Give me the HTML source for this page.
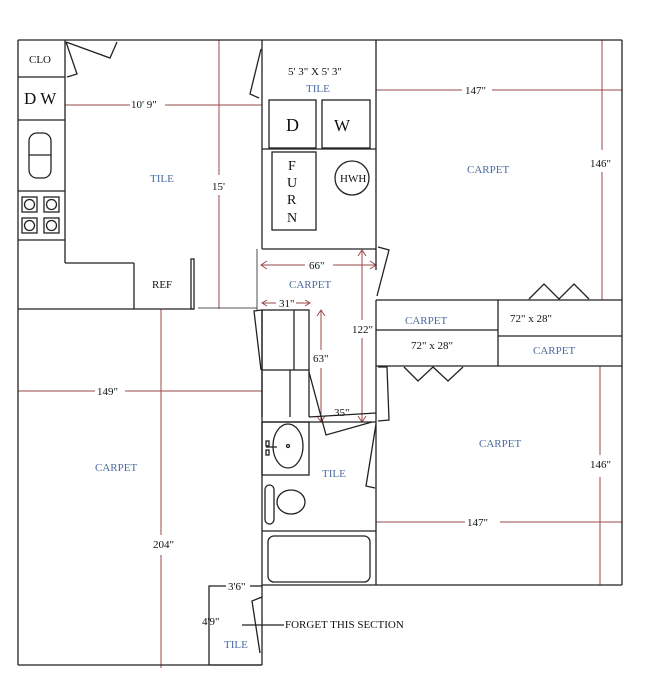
<!DOCTYPE html>
<html><head><meta charset="utf-8"><style>
html,body{margin:0;padding:0;background:#fff;width:650px;height:695px;overflow:hidden}
text{font-family:"Liberation Serif",serif;font-size:11px;fill:#111}
.b{fill:#4a6aa0}
</style></head><body>
<svg width="650" height="695" viewBox="0 0 650 695" xmlns="http://www.w3.org/2000/svg">
<g stroke="#9b4a4a" stroke-width="1" fill="none">
<line x1="65" y1="105" x2="130" y2="105"/><line x1="165" y1="105" x2="262" y2="105"/>
<line x1="219" y1="40" x2="219" y2="175"/><line x1="219" y1="195" x2="219" y2="309"/>
<line x1="376" y1="90" x2="462" y2="90"/><line x1="492" y1="90" x2="622" y2="90"/>
<line x1="602" y1="40" x2="602" y2="150"/><line x1="602" y1="172" x2="602" y2="300"/>
<line x1="18" y1="391" x2="95" y2="391"/><line x1="125" y1="391" x2="262" y2="391"/>
<line x1="161" y1="309" x2="161" y2="535"/><line x1="161" y1="555" x2="161" y2="668"/>
<line x1="376" y1="522" x2="465" y2="522"/><line x1="500" y1="522" x2="622" y2="522"/>
<line x1="600" y1="366" x2="600" y2="455"/><line x1="600" y1="477" x2="600" y2="585"/>
<line x1="261" y1="265" x2="305" y2="265"/><line x1="333" y1="265" x2="376" y2="265"/>
<polyline points="267,261 261,265 267,269"/><polyline points="370,261 376,265 370,269"/>
<line x1="362" y1="250" x2="362" y2="320"/><line x1="362" y1="338" x2="362" y2="422"/>
<polyline points="358,256 362,250 366,256"/><polyline points="358,416 362,422 366,416"/>
<line x1="321" y1="310" x2="321" y2="350"/><line x1="321" y1="368" x2="321" y2="422"/>
<polyline points="317,316 321,310 325,316"/><polyline points="317,416 321,422 325,416"/>
<line x1="262" y1="303" x2="276" y2="303"/><line x1="296" y1="303" x2="310" y2="303"/>
<polyline points="267,300 262,303 267,306"/><polyline points="305,300 310,303 305,306"/>
</g>
<g stroke="#222" stroke-width="1.3" fill="none">
<line x1="18" y1="40" x2="622" y2="40"/>
<line x1="18" y1="40" x2="18" y2="665"/>
<line x1="18" y1="665" x2="262" y2="665"/>
<line x1="622" y1="40" x2="622" y2="585"/>
<line x1="262" y1="585" x2="622" y2="585"/>
<line x1="262" y1="40" x2="262" y2="249"/>
<line x1="262" y1="310" x2="262" y2="665"/>
<line x1="257" y1="249" x2="257" y2="310" stroke-width="0.8"/>
<line x1="376" y1="40" x2="376" y2="270"/>
<line x1="376" y1="300" x2="376" y2="585"/>
<!-- kitchen cabinets -->
<line x1="65" y1="40" x2="65" y2="263"/>
<line x1="18" y1="77" x2="65" y2="77"/><line x1="18" y1="120" x2="65" y2="120"/>
<line x1="18" y1="191" x2="65" y2="191"/><line x1="18" y1="240" x2="65" y2="240"/>
<rect x="29" y="133" width="22" height="45" rx="8"/><line x1="29" y1="155" x2="51" y2="155"/>
<rect x="22" y="197" width="15" height="15"/><rect x="44" y="197" width="15" height="15"/>
<rect x="22" y="218" width="15" height="15"/><rect x="44" y="218" width="15" height="15"/>
<circle cx="29.5" cy="204.5" r="5"/><circle cx="51.5" cy="204.5" r="5"/>
<circle cx="29.5" cy="225.5" r="5"/><circle cx="51.5" cy="225.5" r="5"/>
<line x1="65" y1="263" x2="134" y2="263"/><line x1="134" y1="263" x2="134" y2="309"/>
<line x1="18" y1="309" x2="194" y2="309"/>
<rect x="191" y="259" width="3" height="50"/>
<line x1="198" y1="308" x2="257" y2="308" stroke-width="0.8"/>
<polyline points="66,42 77,74 67,77"/><polyline points="66,42 110,58 117,42"/>
<polyline points="261,49 250,94 259,98"/>
<!-- laundry -->
<rect x="269" y="100" width="47" height="48"/><rect x="322" y="100" width="48" height="48"/>
<line x1="262" y1="149" x2="376" y2="149"/>
<rect x="272" y="152" width="44" height="78"/>
<circle cx="352" cy="178" r="17"/>
<line x1="262" y1="249" x2="376" y2="249"/>
<!-- closets / bath -->
<rect x="262" y="310" width="47" height="60"/><line x1="294" y1="310" x2="294" y2="370"/>
<polyline points="262,310 254,311 261,370"/>
<line x1="262" y1="370" x2="262" y2="417"/><line x1="290" y1="370" x2="290" y2="417"/>
<line x1="309" y1="370" x2="309" y2="417"/>
<line x1="309" y1="417" x2="376" y2="413"/>
<polyline points="309,372 326,435 372,422"/>
<line x1="262" y1="422" x2="376" y2="422"/>
<rect x="262" y="422" width="47" height="53"/>
<ellipse cx="288" cy="446" rx="15" ry="22"/>
<rect x="266" y="441" width="3" height="5"/><rect x="266" y="450" width="3" height="5"/>
<line x1="266" y1="447" x2="277" y2="447"/><circle cx="288" cy="446" r="1.5"/>
<rect x="265" y="485" width="9" height="39" rx="4.5"/>
<ellipse cx="291" cy="502" rx="14" ry="12"/>
<line x1="262" y1="531" x2="376" y2="531"/>
<rect x="268" y="536" width="102" height="46" rx="6"/>
<polyline points="376,424 366,486 375,488"/>
<polyline points="378,247 389,250 377,296"/>
<polyline points="378,367 387,367 389,420 378,421"/>
<!-- closets right -->
<line x1="376" y1="300" x2="622" y2="300"/><line x1="376" y1="366" x2="622" y2="366"/>
<line x1="498" y1="300" x2="498" y2="366"/>
<line x1="376" y1="330" x2="498" y2="330"/><line x1="498" y1="336" x2="622" y2="336"/>
<polyline points="529,299 544,284 559,299 574,284 589,299"/>
<polyline points="404,367 418,381 433,367 448,381 463,367"/>
<!-- forget section -->
<polyline points="209,665 209,586 226,586"/><line x1="250" y1="586" x2="262" y2="586"/>
<line x1="209" y1="665" x2="262" y2="665"/>
<polyline points="262,597 252,601 260,653"/>
<line x1="242" y1="625" x2="284" y2="625"/>
</g>
<text x="29" y="63">CLO</text>
<text x="24" y="104" style="font-size:17px">D W</text>
<text x="131" y="108">10' 9"</text>
<text x="212" y="190">15'</text>
<text x="152" y="288">REF</text>
<text class="b" x="150" y="182">TILE</text>
<text x="288" y="75">5' 3" X 5' 3"</text>
<text class="b" x="306" y="92">TILE</text>
<text x="286" y="131" style="font-size:18px">D</text>
<text x="334" y="131" style="font-size:17px">W</text>
<text x="288" y="170" style="font-size:14px">F</text>
<text x="287" y="187" style="font-size:14px">U</text>
<text x="287" y="204" style="font-size:14px">R</text>
<text x="287" y="222" style="font-size:14px">N</text>
<text x="340" y="182">HWH</text>
<text x="465" y="94">147"</text>
<text class="b" x="467" y="173">CARPET</text>
<text x="590" y="167">146"</text>
<text x="309" y="269">66"</text>
<text class="b" x="289" y="288">CARPET</text>
<text x="279" y="307">31"</text>
<text x="352" y="333">122"</text>
<text x="313" y="362">63"</text>
<text x="334" y="416">35"</text>
<text class="b" x="405" y="324">CARPET</text>
<text x="510" y="322">72" x 28"</text>
<text x="411" y="349">72" x 28"</text>
<text class="b" x="533" y="354">CARPET</text>
<text class="b" x="479" y="447">CARPET</text>
<text x="590" y="468">146"</text>
<text x="467" y="526">147"</text>
<text class="b" x="322" y="477">TILE</text>
<text x="97" y="395">149"</text>
<text class="b" x="95" y="471">CARPET</text>
<text x="153" y="548">204"</text>
<text x="228" y="590">3'6"</text>
<text x="202" y="625">4'9"</text>
<text class="b" x="224" y="648">TILE</text>
<text x="285" y="628">FORGET THIS  SECTION</text>
</svg>
</body></html>
